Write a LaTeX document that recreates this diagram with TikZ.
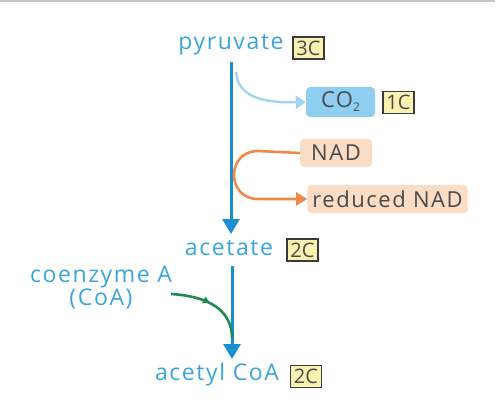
\documentclass[tikz,border=0pt]{standalone}
\usepackage{fontspec}
\setmainfont{Open Sans}[LetterSpace=7]
\newfontfamily\boxfont{Open Sans}
\usetikzlibrary{arrows.meta,decorations.markings}
\definecolor{lblue}{HTML}{3AA6DA}
\definecolor{mblue}{HTML}{1A8FD0}
\definecolor{pblue}{HTML}{A3D5EC}
\definecolor{cobox}{HTML}{8ECEF0}
\definecolor{ybox}{HTML}{FBF2B2}
\definecolor{peach}{HTML}{FBDDC6}
\definecolor{orng}{HTML}{EE8A4C}
\definecolor{grn}{HTML}{1E8A4C}
\definecolor{dtext}{HTML}{4A4A4A}
\tikzset{
  lbl/.style={text=lblue,font=\fontsize{23}{25}\selectfont,inner sep=0pt},
  cbox/.style={draw=dtext!80!black,line width=1.2pt,fill=ybox,text=dtext,font=\boxfont\fontsize{20}{20}\selectfont,inner sep=0pt,minimum width=31pt,minimum height=22pt},
  pbox/.style={fill=peach,rounded corners=4pt,text=dtext,font=\fontsize{22}{24}\selectfont,inner xsep=5pt,inner ysep=0pt,minimum height=28pt},
  bbox/.style={fill=cobox,rounded corners=4pt,text=dtext,font=\fontsize{22}{24}\selectfont,inner xsep=6pt,inner ysep=0pt,minimum height=30pt},
  mainarr/.style={draw=mblue,line width=3pt,-{Triangle[length=15pt,width=17pt]}},
}
\begin{document}
\begin{tikzpicture}[x=1pt,y=-1pt]
\useasboundingbox (0,0) rectangle (500,417);
\fill[white] (0,0) rectangle (500,417);
\draw[gray!45,line width=2.5pt] (0,1) -- (495,1);

\node[lbl] (pyr) at (231,45) {pyruvate};
\node[cbox] (c3) at (308.5,48) {3C};
\node[bbox,minimum width=69pt] (co2) at (340.5,102) {CO\raisebox{-4pt}{\fontsize{12}{12}\selectfont 2}};
\node[cbox] (c1) at (398.5,102.5) {1C};
\node[pbox,minimum width=72pt] (nad) at (336,153) {NAD};
\node[pbox] (rnad) at (387.5,199) {reduced NAD};
\node[lbl] (ace) at (229,248) {acetate};
\node[cbox] (c2a) at (302.5,250) {2C};
\node[lbl,align=center] (coa) at (101,288) {coenzyme A\\[-2pt](CoA)};
\node[lbl] (acoa) at (217,375) {acetyl CoA};
\node[cbox] (c2b) at (306,376.5) {2C};

\coordinate (m1) at (231,62);
\coordinate (m2) at (231,234);
\coordinate (b1) at (232,266);
\coordinate (b2) at (232,359);
\draw[mainarr] (m1) -- (m2);
\draw[mainarr] (b1) -- (b2);

\coordinate (p1) at (236,72);
\draw[draw=pblue,line width=2.4pt,-{Triangle[length=10pt,width=13pt]}] (p1) .. controls (238,98) and (265,103) .. (co2.west);

\draw[draw=orng,line width=2.6pt,-{Triangle[length=11pt,width=13pt]}] (nad.west) -- (258,151) .. controls (226,151) and (226,199) .. (258,199) -- (rnad.west);

\coordinate (g1) at (171,294);
\coordinate (g2) at (232,338);
\draw[draw=grn,line width=2.6pt,decoration={markings,mark=at position 0.48 with {\arrow{Triangle[length=7pt,width=7pt]}}},postaction={decorate}] (g1) .. controls (205,296) and (232,308) .. (g2);
\end{tikzpicture}
\end{document}
